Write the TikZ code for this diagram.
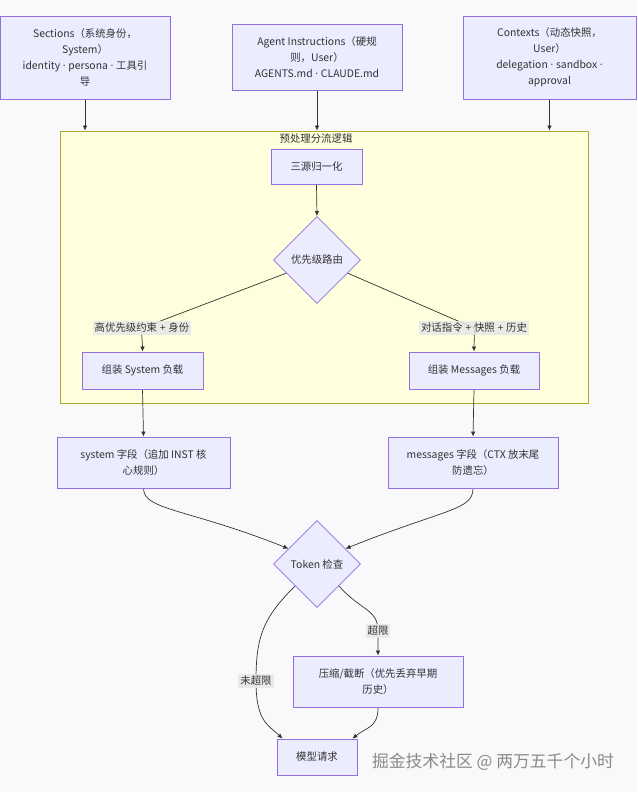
\documentclass[tikz,border=0pt]{standalone}
\usepackage{fontspec}
\setmainfont{Noto Sans CJK SC}
\newfontfamily\latinfont{Open Sans}
\newcommand\mydot{{\latinfont\ ·\ }}
\newcommand\myplus{{\latinfont\ +\ }}
\usetikzlibrary{shapes.geometric,arrows.meta,calc}
\definecolor{nodefill}{HTML}{ECECFF}
\definecolor{nodeline}{HTML}{9370DB}
\definecolor{clfill}{HTML}{FFFFDE}
\definecolor{clline}{HTML}{AAAA33}
\definecolor{edgec}{HTML}{333333}
\definecolor{lblfill}{HTML}{E8E8E8}
\definecolor{txt}{HTML}{333333}
\definecolor{bgc}{HTML}{F9F9FB}
\definecolor{wmc}{HTML}{8A8A8A}
\pgfdeclarelayer{bg}
\pgfdeclarelayer{edgelayer}
\pgfsetlayers{bg,edgelayer,main}
\begin{document}
\begin{tikzpicture}[x=1pt,y=-1pt, font=\fontsize{10.4}{16}\selectfont, text=txt,
 box/.style={draw=nodeline, fill=nodefill, line width=0.8pt, align=center, inner sep=0pt},
 dia/.style={diamond, aspect=1, draw=nodeline, fill=nodefill, line width=0.8pt, minimum width=87pt, minimum height=87pt, inner sep=0pt},
 lbl/.style={fill=lblfill, fill opacity=0.85, text opacity=1, inner xsep=2pt, inner ysep=2.5pt},
 edge/.style={draw=edgec, line width=0.7pt, -{Latex[length=5pt,width=4.5pt]}}]
\useasboundingbox (0,0) rectangle (637,792);
\begin{pgfonlayer}{bg}
\fill[bgc] (0,0) rectangle (637,792);
\node[draw=clline, fill=clfill, line width=0.8pt, minimum width=528pt, minimum height=272pt, inner sep=0pt] (cl) at (324,267) {};
\end{pgfonlayer}
\node (clt) at (316,139) {预处理分流逻辑};

% top sources
\node[box, minimum width=170pt, minimum height=83pt] (sec) at (85,57.5) {Sections（系统身份，\\System）\\identity\mydot persona\mydot 工具引\\导};
\node[box, minimum width=170pt, minimum height=66pt] (ai) at (317,57) {Agent Instructions（硬规\\则，User）\\AGENTS.md\mydot CLAUDE.md};
\node[box, minimum width=173pt, minimum height=83pt] (ctx) at (549.5,57.5) {Contexts（动态快照，\\User）\\delegation\mydot sandbox\mydot\\approval};

% cluster contents
\node[box, minimum width=91pt, minimum height=35pt] (norm) at (316.5,166.5) {三源归一化};
\node[dia] (d1) at (317,260) {优先级路由};
\node[box, minimum width=121pt, minimum height=37pt] (asys) at (142.5,370.5) {组装 System 负载};
\node[box, minimum width=130pt, minimum height=37pt] (amsg) at (474,370.5) {组装 Messages 负载};
\node[lbl] (l1) at (142,328) {高优先级约束\myplus 身份};
\node[lbl] (l2) at (474,328) {对话指令\myplus 快照\myplus 历史};

% fields
\node[box, minimum width=173pt, minimum height=51pt] (sysf) at (143.5,462.5) {system 字段（追加 INST 核\\心规则）};
\node[box, minimum width=170pt, minimum height=51pt] (msgf) at (473,462.5) {messages 字段（CTX 放末尾\\防遗忘）};

% token check
\node[dia] (d2) at (317,564) {Token 检查};
\node[box, minimum width=170pt, minimum height=51pt] (comp) at (378,681.5) {压缩/截断（优先丢弃早期\\历史）};
\node[box, minimum width=80pt, minimum height=36pt] (model) at (317,757) {模型请求};
\node[lbl] (l3) at (378,631) {超限};
\node[lbl] (l4) at (256,681) {未超限};

\node[text=wmc, font=\fontsize{16.8}{17}\selectfont] (wm) at (493,762) {掘金技术社区 @ 两万五千个小时};

\begin{pgfonlayer}{edgelayer}
\draw[edge] (sec.south) -- (sec.south |- cl.north);
\draw[edge] (ai.south) -- (ai.south |- cl.north);
\draw[edge] (ctx.south) -- (ctx.south |- cl.north);
\draw[edge] (norm.south) -- (d1.north);
\draw[edge] ($(d1.west)!0.3!(d1.south)$) -- (l1.center) .. controls +(-1,5) and +(0,-10) .. (asys.north);
\draw[edge] ($(d1.east)!0.3!(d1.south)$) -- (l2.center) .. controls +(1,5) and +(0,-10) .. (amsg.north);
\draw[edge] (asys.south) -- (sysf.north);
\draw[edge] (amsg.south) -- (msgf.north);
\draw[edge] (sysf.south) .. controls +(0,22) and +(-100,-40) .. ($(d2.west)!0.35!(d2.north)$);
\draw[edge] (msgf.south) .. controls +(0,22) and +(100,-40) .. ($(d2.east)!0.35!(d2.north)$);
\draw[edge] ($(d2.east)!0.5!(d2.south)$) .. controls +(22,25) and +(0,-22) .. (l3.center) -- (comp.north);
\draw[edge] ($(d2.west)!0.5!(d2.south)$) .. controls +(-32,32) and +(0,-45) .. (l4.center) .. controls +(0,40) and +(-15,-14) .. ($(model.north west)+(6,0)$);
\draw[edge] (comp.south) .. controls +(0,20) and +(15,-12) .. ($(model.north east)+(-5,0)$);
\end{pgfonlayer}
\end{tikzpicture}
\end{document}
